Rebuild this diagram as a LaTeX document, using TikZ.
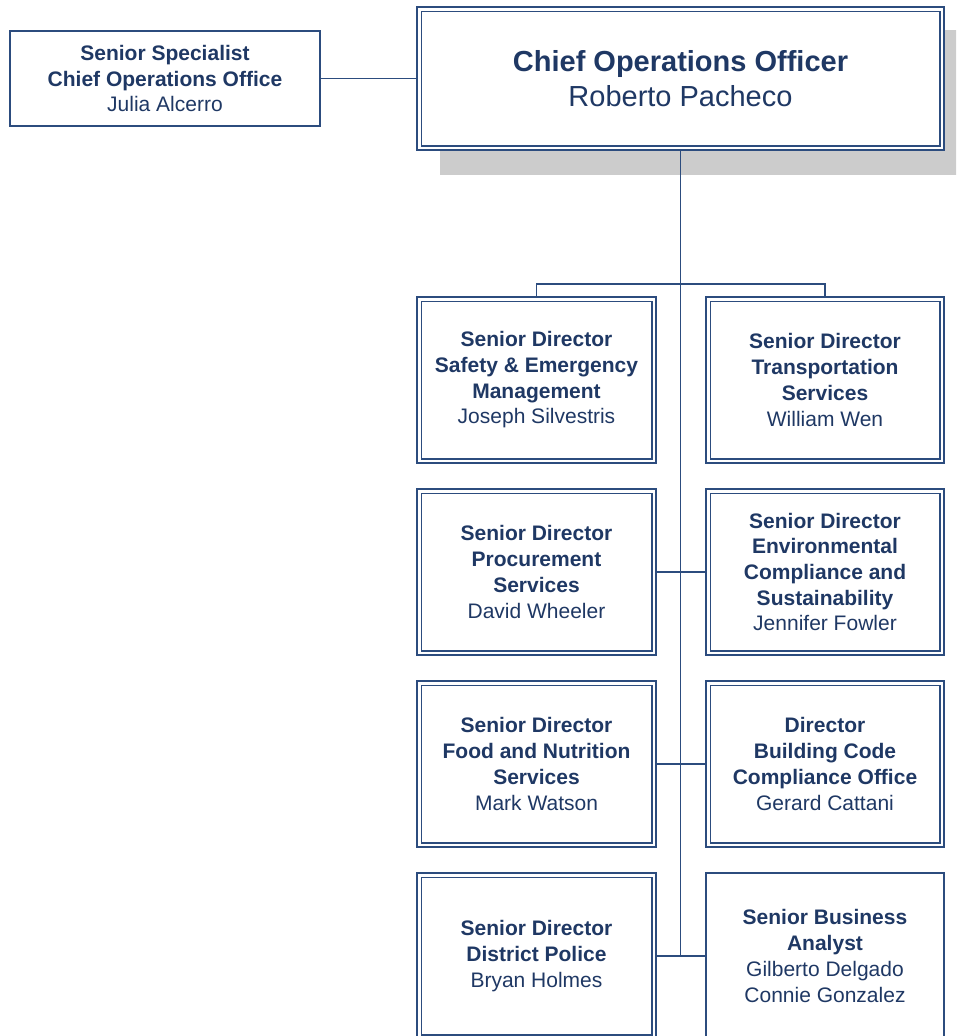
\documentclass[tikz,border=0pt]{standalone}
\usepackage{fontspec}
\setmainfont{Liberation Sans}
\definecolor{navy}{RGB}{31,56,100}
\definecolor{linec}{RGB}{44,76,126}
\definecolor{shadowc}{RGB}{204,204,204}
\begin{document}
\begin{tikzpicture}[x=1pt,y=-1pt,
  txt/.style={text=navy,align=center,font=\fontsize{21}{25.7}\selectfont},
  dbox/.style={txt,draw=linec,fill=white,line width=1.7pt,double=white,double distance=2.8pt,
    rectangle,inner sep=0pt,outer sep=3.1pt,minimum width=234.8pt,minimum height=161.8pt},
  sbox/.style={txt,draw=linec,fill=white,line width=1.8pt,rectangle,inner sep=0pt,
    minimum width=238.2pt,minimum height=166.2pt},
  conn/.style={draw=linec,line width=1.8pt}]
\useasboundingbox (0,0) rectangle (956,1036);
\clip (0,0) rectangle (956,1036);
\fill[shadowc] (440,30) rectangle (969,175);
% top
\node[dbox,minimum width=522.8pt,minimum height=138.8pt,font=\fontsize{29}{35}\selectfont] (top) at (680.5,78.5)
  {\textbf{Chief Operations Officer}\\Roberto Pacheco};
\node[sbox,minimum width=310.2pt,minimum height=95.2pt] (spec) at (165,78.5)
  {\textbf{Senior Specialist}\\\textbf{Chief Operations Office}\\Julia Alcerro};
% row 1
\node[dbox] (r1L) at (536.5,380)
  {\textbf{Senior Director}\\\textbf{Safety \& Emergency}\\\textbf{Management}\\Joseph Silvestris};
\node[dbox,minimum width=233.8pt] (r1R) at (825,380)
  {\textbf{Senior Director}\\\textbf{Transportation}\\\textbf{Services}\\William Wen};
% row 2
\node[dbox] (r2L) at (536.5,572)
  {\textbf{Senior Director}\\\textbf{Procurement}\\\textbf{Services}\\David Wheeler};
\node[dbox,minimum width=233.8pt] (r2R) at (825,572)
  {\textbf{Senior Director}\\\textbf{Environmental}\\\textbf{Compliance and}\\\textbf{Sustainability}\\Jennifer Fowler};
% row 3
\node[dbox] (r3L) at (536.5,764)
  {\textbf{Senior Director}\\\textbf{Food and Nutrition}\\\textbf{Services}\\Mark Watson};
\node[dbox,minimum width=233.8pt] (r3R) at (825,764)
  {\textbf{Director}\\\textbf{Building Code}\\\textbf{Compliance Office}\\Gerard Cattani};
% row 4
\node[dbox] (r4L) at (536.5,956)
  {\textbf{Senior Director}\\\textbf{District Police}\\Bryan Holmes};
\node[sbox] (r4R) at (825,956)
  {\textbf{Senior Business}\\\textbf{Analyst}\\Gilberto Delgado\\Connie Gonzalez};
% connectors
\coordinate (trunkend) at (top.south |- r4L.east);
\draw[conn] (top.south) -- (trunkend);
\draw[conn] (spec.east) -- (top.west);
\draw[conn] (r1L.north) -- ++(0,-12) -| (r1R.north);
\draw[conn] (r2L.east) -- (r2R.west);
\draw[conn] (r3L.east) -- (r3R.west);
\draw[conn] (r4L.east) -- (r4R.west);
\end{tikzpicture}
\end{document}
